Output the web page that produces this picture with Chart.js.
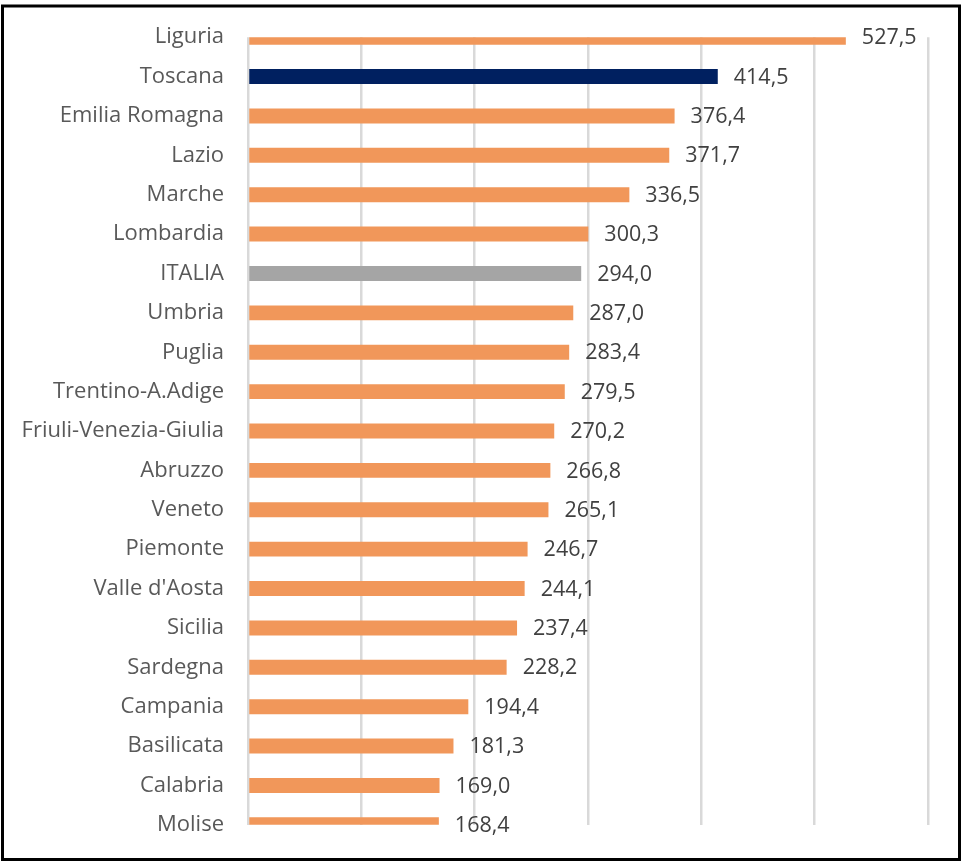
<!DOCTYPE html>
<html>
<head>
<meta charset="utf-8">
<script src="https://cdn.jsdelivr.net/npm/chart.js@4/dist/chart.umd.min.js"></script>
<style>
  html, body { margin: 0; padding: 0; background: #fff; }
  canvas { display: block; }
</style>
</head>
<body>
<canvas id="barChart" width="966" height="862"></canvas>
<script>
// Regions (top to bottom) and values
var regioni = [
    'Liguria', 'Toscana', 'Emilia Romagna', 'Lazio', 'Marche', 'Lombardia',
    'ITALIA', 'Umbria', 'Puglia', 'Trentino-A.Adige', 'Friuli-Venezia-Giulia',
    'Abruzzo', 'Veneto', 'Piemonte', "Valle d'Aosta", 'Sicilia', 'Sardegna',
    'Campania', 'Basilicata', 'Calabria', 'Molise'
];
var valori = [
    527.5, 414.5, 376.4, 371.7, 336.5, 300.3,
    294.0, 287.0, 283.4, 279.5, 270.2,
    266.8, 265.1, 246.7, 244.1, 237.4, 228.2,
    194.4, 181.3, 169.0, 168.4
];
var xTicks = [0, 100, 200, 300, 400, 500, 600];

var FONT = '"Open Sans", Lato, sans-serif';

//Bar colours: Toscana highlighted, national average in grey
var barColors = regioni.map(function (r) {
    if (r === 'Toscana') return '#002060';
    if (r === 'ITALIA') return '#A5A5A5';
    return '#F1975A';
});

// value labels to the right of each bar
var valueLabels = {
    id: 'valueLabels',
    afterDatasetsDraw: function (chart) {
        var ctx = chart.ctx;
        var meta = chart.getDatasetMeta(0);
        ctx.save();
        ctx.font = '21.5px ' + FONT;
        ctx.fillStyle = '#404040';
        ctx.textAlign = 'left';
        ctx.textBaseline = 'middle';
        meta.data.forEach(function (bar, i) {
            var txt = valori[i].toFixed(1).replace('.', ',');
            ctx.fillText(txt, bar.x + 16, bar.y + 1);
        });
        ctx.restore();
    }
};

// black frame round the picture
var frame = {
    id: 'frame',
    afterDraw: function (chart) {
        var ctx = chart.ctx;
        ctx.save();
        ctx.strokeStyle = '#000';
        ctx.lineWidth = 3;
        ctx.strokeRect(2.5, 6, 957, 853.5);
        ctx.restore();
    }
};

var ctx = document.getElementById('barChart').getContext('2d');
var barChart = new Chart(ctx, {
    type: 'bar',
    data: {
        labels: regioni,
        datasets: [{
            data: valori,
            backgroundColor: barColors,
            borderWidth: 0,
            categoryPercentage: 1,
            barPercentage: 0.38,
            clip: 0
        }]
    },
    options: {
        indexAxis: 'y',
        responsive: false,
        animation: false,
        devicePixelRatio: 1,
        layout: { padding: { top: 36, bottom: 32, right: 38, left: 0 } },
        plugins: {
            legend: { display: false },
            tooltip: { enabled: false }
        },
        scales: {
            x: {
                min: xTicks[0],
                max: xTicks[xTicks.length - 1],
                afterBuildTicks: function (scale) {
                    scale.ticks = xTicks.map(function (v) { return { value: v }; });
                },
                ticks: { display: false },
                grid: { color: '#D9D9D9', lineWidth: 2.5, drawTicks: false },
                border: { display: false }
            },
            y: {
                offset: false,
                grid: { display: false, drawTicks: false },
                border: { display: false },
                ticks: {
                    color: '#595959',
                    padding: 24,
                    font: { family: FONT, size: 22 }
                },
                afterFit: function (scale) { scale.width = 248; }
            }
        }
    },
    plugins: [valueLabels, frame]
});
</script>
</body>
</html>
